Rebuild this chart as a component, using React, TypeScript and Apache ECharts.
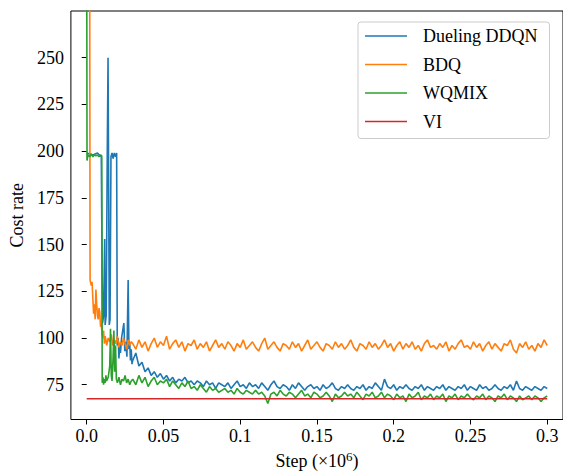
import React, { useEffect, useRef } from "react";
import * as echarts from "echarts";

const SERIES_NAMES = ["Dueling DDQN", "BDQ", "WQMIX", "VI"];
const COLORS = ["#1f77b4", "#ff7f0e", "#2ca02c", "#d62728"];
const X_TICKS = [0, 0.05, 0.1, 0.15, 0.2, 0.25, 0.3];
const Y_TICKS = [75, 100, 125, 150, 175, 200, 225, 250];

const TAIL_START = 0.03;
const TAIL_STEP = 0.002;

const DDQN_EARLY: number[][] = [
  [0, 199], [0.004, 198], [0.007, 199], [0.0095, 197], [0.0103, 108], [0.011, 112],
  [0.0117, 153], [0.012, 107], [0.0127, 112], [0.0134, 200], [0.0139, 250], [0.0143, 180],
  [0.0147, 107], [0.0152, 110], [0.0158, 197], [0.0165, 199], [0.0172, 196], [0.018, 199],
  [0.0188, 197], [0.0195, 199], [0.0199, 96], [0.0205, 100], [0.021, 89], [0.0215, 97],
  [0.022, 92], [0.0227, 100], [0.0242, 108], [0.0248, 93], [0.0255, 98], [0.0262, 90],
  [0.027, 131], [0.0275, 94], [0.028, 98], [0.0285, 88], [0.029, 94], [0.0295, 86],
];
const DDQN_TAIL = [
  88, 92, 85, 87, 82, 84, 80, 82, 79, 81,
  78, 80, 77, 79, 76, 78, 77, 79, 76, 77,
  75, 77, 76, 74, 77, 75, 76, 73, 76, 75,
  74, 76, 73, 75, 77, 74, 75, 73, 76, 74,
  75, 73, 76, 74, 72, 75, 77, 74, 73, 75,
  74, 72, 75, 73, 76, 74, 72, 74, 75, 73,
  74, 72, 75, 73, 74, 76, 73, 72, 74, 73,
  75, 73, 72, 74, 73, 75, 72, 74, 73, 76,
  74, 72, 78, 74, 73, 75, 72, 74, 73, 75,
  73, 72, 74, 73, 75, 72, 74, 73, 72, 74,
  73, 75, 72, 74, 73, 72, 74, 73, 75, 72,
  74, 73, 72, 75, 73, 74, 72, 73, 75, 73,
  72, 74, 73, 75, 72, 77, 73, 72, 74, 73,
  72, 74, 73, 72, 74, 73,
];

const BDQ_EARLY: number[][] = [
  [0.0019, 330], [0.0022, 131], [0.003, 128], [0.0035, 130], [0.004, 121], [0.0045, 113],
  [0.005, 118], [0.0055, 110], [0.006, 126], [0.0065, 118], [0.007, 112], [0.0075, 110],
  [0.008, 116], [0.0085, 114], [0.009, 106], [0.0095, 108], [0.01, 102], [0.0105, 100],
  [0.011, 104], [0.0115, 97], [0.012, 101], [0.0125, 99], [0.013, 96], [0.014, 100],
  [0.015, 98], [0.016, 102], [0.017, 96], [0.018, 99], [0.019, 97], [0.02, 101],
  [0.021, 95], [0.022, 98], [0.023, 96], [0.024, 100], [0.025, 97], [0.026, 94],
  [0.027, 99], [0.028, 96], [0.029, 98],
];
const BDQ_TAIL = [
  97, 94, 99, 95, 98, 93, 97, 100, 95, 98,
  96, 101, 94, 97, 99, 95, 98, 93, 97, 96,
  99, 94, 97, 95, 98, 93, 96, 99, 95, 97,
  94, 98, 96, 93, 97, 95, 99, 94, 96, 98,
  95, 93, 97, 100, 94, 96, 98, 95, 93, 97,
  96, 94, 98, 95, 97, 93, 96, 99, 94, 96,
  98, 95, 93, 97, 96, 94, 98, 95, 97, 94,
  96, 99, 95, 93, 97, 96, 94, 98, 95, 97,
  94, 96, 99, 95, 97, 93, 96, 98, 94, 97,
  95, 98, 94, 96, 93, 97, 99, 95, 96, 94,
  97, 95, 98, 93, 96, 94, 97, 99, 95, 96,
  94, 98, 95, 97, 93, 96, 98, 94, 97, 95,
  93, 97, 96, 99, 94, 92, 97, 95, 98, 94,
  96, 93, 97, 95, 99, 96,
];

const WQMIX_EARLY: number[][] = [
  [0, 320], [0.0002, 195], [0.0008, 198], [0.002, 197], [0.003, 198.5], [0.004, 197],
  [0.005, 198], [0.006, 197.5], [0.007, 198], [0.008, 197], [0.009, 198], [0.0098, 197.5],
  [0.0101, 76], [0.0106, 79], [0.011, 75], [0.0115, 78], [0.012, 76], [0.0125, 80],
  [0.013, 77], [0.014, 79], [0.015, 85], [0.0155, 105], [0.016, 80], [0.0165, 77],
  [0.0172, 90], [0.0177, 104], [0.0182, 82], [0.0188, 96], [0.0193, 78], [0.02, 76],
  [0.021, 79], [0.022, 75], [0.023, 78], [0.024, 77], [0.025, 80], [0.026, 76],
  [0.027, 78], [0.028, 75], [0.029, 77],
];
const WQMIX_TAIL = [
  78, 75, 80, 76, 79, 74, 77, 79, 75, 77,
  76, 78, 74, 77, 75, 73, 76, 74, 77, 73,
  74, 72, 75, 73, 71, 74, 72, 73, 71, 72,
  73, 71, 72, 70, 73, 71, 70, 72, 71, 70,
  72, 70, 71, 69, 65, 70, 71, 69, 72, 70,
  69, 71, 70, 68, 70, 72, 69, 70, 68, 71,
  70, 68, 69, 71, 69, 66, 70, 68, 69, 71,
  69, 70, 68, 71, 69, 67, 70, 69, 71, 68,
  69, 71, 68, 70, 69, 67, 70, 68, 69, 66,
  70, 68, 69, 71, 67, 69, 68, 70, 67, 69,
  68, 70, 66, 69, 68, 70, 67, 69, 68, 70,
  68, 67, 69, 68, 70, 67, 69, 68, 66, 69,
  68, 70, 67, 69, 68, 66, 69, 67, 68, 69,
  67, 69, 68, 66, 68, 69,
];

const VI_POINTS: number[][] = [[0, 67.5], [0.3, 67.5]];

const FONT = "Liberation Serif";

function build(early: number[][], tail: number[]) {
  return early.concat(
    tail.map((v, i) => [Number((TAIL_START + i * TAIL_STEP).toFixed(4)), v])
  );
}

export default function App() {
  const ref = useRef<HTMLDivElement>(null);
  useEffect(() => {
    if (!ref.current) return;
    const chart = echarts.init(ref.current, undefined, { renderer: "svg" });
    const datasets = [
      build(DDQN_EARLY, DDQN_TAIL),
      build(BDQ_EARLY, BDQ_TAIL),
      build(WQMIX_EARLY, WQMIX_TAIL),
      VI_POINTS,
    ];
    chart.setOption({
      animation: false,
      backgroundColor: "#ffffff",
      grid: {
        left: 69,
        top: 11,
        right: -3,
        bottom: 53,
        show: true,
        borderColor: "#000",
        borderWidth: 1,
        backgroundColor: "transparent",
      },
      legend: {
        orient: "vertical",
        left: 358,
        top: 22,
        padding: [5, 12, 8, 7],
        icon: "rect",
        itemWidth: 42,
        itemHeight: 1.5,
        itemGap: 10.5,
        borderColor: "#cccccc",
        borderWidth: 1,
        borderRadius: 3,
        backgroundColor: "rgba(255,255,255,0.8)",
        textStyle: {
          fontFamily: FONT,
          fontSize: 18,
          lineHeight: 18,
          color: "#000",
          padding: [0, 0, 0, 11],
        },
        data: SERIES_NAMES.map((name, k) => ({
          name,
          icon: "rect",
          itemStyle: { color: COLORS[k], borderWidth: 0 },
        })),
      },
      xAxis: {
        type: "value",
        min: -0.0103,
        max: 0.3103,
        splitLine: { show: false },
        axisLine: { show: false },
        axisTick: {
          show: true,
          customValues: X_TICKS,
          length: 5,
          lineStyle: { color: "#000" },
        },
        axisLabel: {
          customValues: X_TICKS,
          fontFamily: FONT,
          fontSize: 18,
          color: "#000",
          margin: 7,
          formatter: (v: number) => (v === 0 ? "0.0" : String(v)),
        },
        name: "Step (×10{sup|6})",
        nameLocation: "middle",
        nameGap: 30,
        nameTextStyle: {
          fontFamily: FONT,
          fontSize: 18,
          color: "#000",
          rich: {
            sup: { fontFamily: FONT, fontSize: 13, color: "#000", padding: [0, 0, 10, 0] },
          },
        },
      },
      yAxis: {
        type: "value",
        min: 56.4,
        max: 275,
        splitLine: { show: false },
        axisLine: { show: false },
        axisTick: {
          show: true,
          customValues: Y_TICKS,
          length: 5,
          lineStyle: { color: "#000" },
        },
        axisLabel: {
          customValues: Y_TICKS,
          fontFamily: FONT,
          fontSize: 18,
          color: "#000",
          margin: 7,
        },
        name: "Cost rate",
        nameLocation: "middle",
        nameGap: 40,
        nameTextStyle: { fontFamily: FONT, fontSize: 18, color: "#000" },
      },
      series: SERIES_NAMES.map((name, k) => ({
        name,
        type: "line",
        data: datasets[k],
        symbol: "none",
        showSymbol: false,
        color: COLORS[k],
        lineStyle: { width: 1.6, color: COLORS[k] },
        itemStyle: { color: COLORS[k] },
        z: 2 + k,
      })),
    });
    return () => chart.dispose();
  }, []);
  return (
    <div
      ref={ref}
      style={{ position: "fixed", left: 0, top: 0, width: 563, height: 475 }}
    />
  );
}
